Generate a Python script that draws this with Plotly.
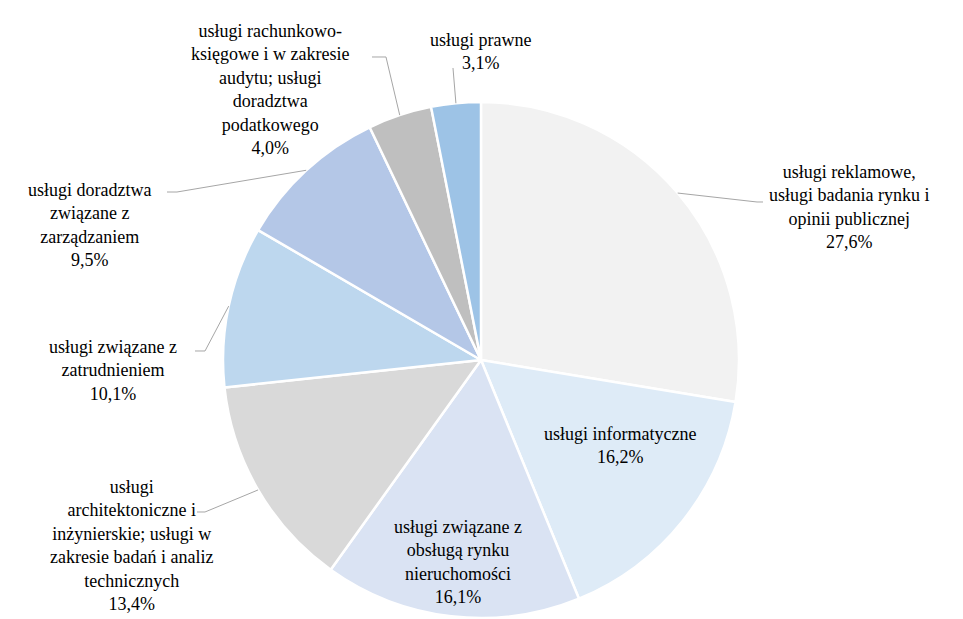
import math
import plotly.graph_objects as go

W, H = 963, 619

categories = [
    "usługi reklamowe, usługi badania rynku i opinii publicznej",
    "usługi informatyczne",
    "usługi związane z obsługą rynku nieruchomości",
    "usługi architektoniczne i inżynierskie; usługi w zakresie badań i analiz technicznych",
    "usługi związane z zatrudnieniem",
    "usługi doradztwa związane z zarządzaniem",
    "usługi rachunkowo-księgowe i w zakresie audytu; usługi doradztwa podatkowego",
    "usługi prawne",
]
values = [27.6, 16.2, 16.1, 13.4, 10.1, 9.5, 4.0, 3.1]
label_lines = [
    ["usługi reklamowe,", "usługi badania rynku i", "opinii publicznej"],
    ["usługi informatyczne"],
    ["usługi związane z", "obsługą rynku", "nieruchomości"],
    ["usługi", "architektoniczne i", "inżynierskie; usługi w", "zakresie badań i analiz", "technicznych"],
    ["usługi związane z", "zatrudnieniem"],
    ["usługi doradztwa", "związane z", "zarządzaniem"],
    ["usługi rachunkowo-", "księgowe i w zakresie", "audytu; usługi", "doradztwa", "podatkowego"],
    ["usługi prawne"],
]
colors = ["#f2f2f2", "#deebf7", "#dae3f3", "#d9d9d9", "#bdd7ee", "#b4c7e7", "#bfbfbf", "#9dc3e6"]

# layout: pie geometry (pixels)
cx, cy, R = 481, 360, 258
# label block centers (pixels)
label_pos = [(849, 207), (620, 446), (458, 562), (131, 545), (113, 370), (89, 225), (270, 89), (480, 51)]
# leader elbows (pixels) from label side; None = inside label
leaders = [
    [(763, 202), (757, 202)],
    None,
    None,
    [(197, 512), (205, 512)],
    [(195, 351), (205, 351)],
    [(167, 192), (177, 192)],
    [(372, 57), (386, 57)],
    [(453, 68)],
]
FONT = "'Times New Roman', Tinos, 'Liberation Serif', 'DejaVu Serif', serif"

fig = go.Figure()
fig.add_trace(go.Pie(
    labels=categories, values=values, sort=False, direction="clockwise", rotation=0,
    marker=dict(colors=colors, line=dict(color="white", width=2.5)),
    textinfo="none", hoverinfo="label+percent", showlegend=False,
    domain=dict(x=[(cx - R) / W, (cx + R) / W], y=[(H - cy - R) / H, (H - cy + R) / H]),
))

def px(x, y):
    return x / W, 1 - y / H

total = sum(values)
cum = 0.0
shapes = []
annotations = []
for i, v in enumerate(values):
    mid = (cum + v / 2) / total * 2 * math.pi
    cum += v
    ex, ey = cx + R * math.sin(mid), cy - R * math.cos(mid)
    pct = f"{v:.1f}".replace(".", ",") + "%"
    text = "<br>".join(label_lines[i] + [pct])
    lx, ly = label_pos[i]
    ax_, ay_ = px(lx, ly)
    annotations.append(dict(x=ax_, y=ay_, xref="paper", yref="paper", text=text, showarrow=False,
                            xanchor="center", yanchor="middle", align="center",
                            font=dict(family=FONT, size=18, color="#000000")))
    if leaders[i]:
        pts = leaders[i] + [(ex, ey)]
        path = "M " + " L ".join(f"{px(x, y)[0]:.5f},{px(x, y)[1]:.5f}" for x, y in pts)
        shapes.append(dict(type="path", path=path, xref="paper", yref="paper",
                           line=dict(color="#a6a6a6", width=1)))

fig.update_layout(
    width=W, height=H, margin=dict(l=0, r=0, t=0, b=0),
    paper_bgcolor="white", plot_bgcolor="white",
    font=dict(family=FONT),
    shapes=shapes, annotations=annotations,
)
fig.write_html("out.html", config={"displayModeBar": False},
               post_script="document.body.style.margin='0';document.body.style.padding='0';")
